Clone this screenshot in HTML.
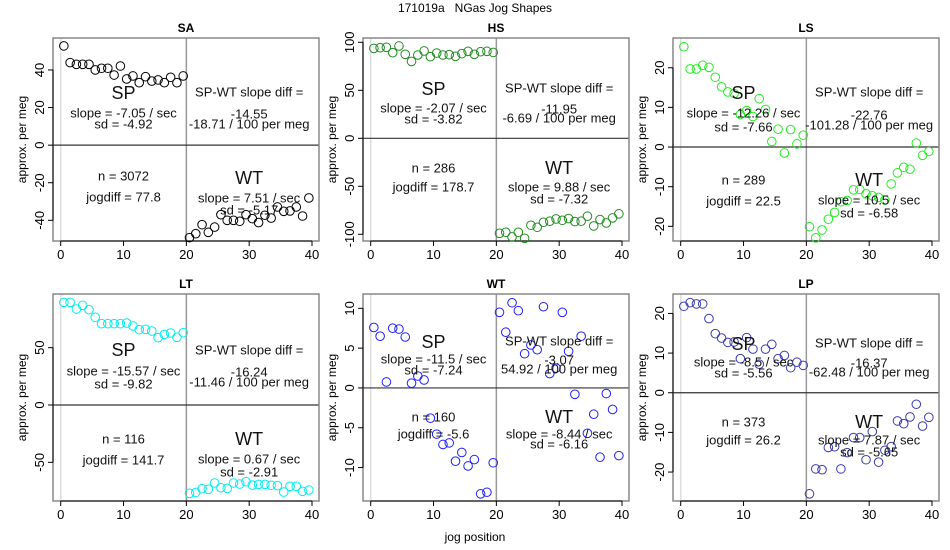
<!DOCTYPE html>
<html><head><meta charset="utf-8"><style>
body{margin:0;background:#fff;}
svg{display:block;font-family:"Liberation Sans",Arial,sans-serif;}
</style></head><body>
<svg id="chart" width="950" height="550" viewBox="0 0 950 550" xmlns="http://www.w3.org/2000/svg">
<rect width="950" height="550" fill="#fff"/>
<text x="475" y="12" font-size="12" text-anchor="middle" style="white-space:pre">171019a   NGas Jog Shapes</text>
<text x="475" y="541" font-size="12" text-anchor="middle">jog position</text>
</svg>
<script>
const panelNames = ["SA","HS","LS","LT","WT","LP"];
const panelColors = ["#000000","#228b22","#22ee22","#00eeee","#2020ff","#3a3ab0"];
const spSA = [52.8,43.9,43,43,43,40,40.9,40.9,37.3,42.1,35.2,36.8,33.2,36.4,34.1,34.7,33.2,36.1,33.2,36.8];
const wtSA = [-49.2,-47.1,-42.3,-46.4,-43.6,-37,-40,-40,-40.5,-37,-39.1,-41.2,-37.3,-38.8,-32.9,-35.2,-35,-32.9,-37.7,-28.1];
const spHS = [93.7,94.4,94.8,89.2,96.2,87.5,80.1,86.8,91.0,85.0,88.8,86.8,87.1,85.4,88.2,90.6,87.5,90.2,90.6,89.5];
const wtHS = [-99,-97.9,-102.8,-97.9,-104.2,-90.6,-92.7,-87.5,-86.4,-84,-85.4,-83.6,-86.8,-86.4,-81.2,-91.3,-84.7,-88.2,-82.9,-78.7];
const spLS = [25.3,19.7,19.7,20.6,20.1,17.6,15.2,13.9,13.5,8.2,9.2,7.7,12.2,9.5,1.4,4.5,-1.5,4.4,0.8,3.0];
const wtLS = [-20.1,-22.9,-20.9,-18.2,-16.5,-13.8,-13.5,-10.8,-10.7,-11.8,-12.3,-12.7,-13.4,-9.3,-6.5,-5.1,-5.6,1.0,-2.1,-1.1];
const spLT = [89.5,89.5,83.7,86.9,83.1,76.5,70.9,70.9,70.9,70.9,71.5,68.9,65.7,66,64.5,58.7,61.6,62.8,59,63.1];
const wtLT = [-77,-76.2,-73,-73.5,-68,-72.1,-72.7,-68,-68.9,-66.9,-69.8,-69.2,-69.2,-70,-70.3,-75.9,-70.9,-70.9,-75.3,-74.1];
const spWT = [7.6,6.5,0.75,7.5,7.4,6.4,0.6,1.5,1.0,-3.8,-5.8,-7.1,-6.9,-9.2,-8.1,-9.8,-9.0,-13.3,-13.1,-9.4];
const wtWT = [9.5,7.0,10.7,9.7,4.3,5.4,4.8,10.2,1.8,2.5,9.5,4.6,-0.8,6.5,-5.7,-3.3,-8.7,-0.7,-2.7,-8.5];
const spLP = [21.8,22.7,22.4,22.4,18.7,14.9,13.8,12.7,12.8,8.6,13.9,11.0,7.2,11.0,12.2,8.6,9.4,6.3,7.7,6.9];
const wtLP = [-25.5,-19.2,-19.4,-13.8,-13.6,-19.2,-15.1,-11.3,-11.3,-16.9,-9.8,-17.5,-14.5,-13.6,-7.1,-7.8,-6.1,-2.9,-8.4,-6.2];
const yMax = [57,104.5,27.5,96.8,11.8,24.9];
const yMin = [-51,-107,-23.7,-83.7,-14.2,-27.3];
const yTicks = [[-40,-20,0,20,40],[-100,-50,0,50,100],[-20,-10,0,10,20],[-50,0,50],[-10,-5,0,5,10],[-20,-10,0,10,20]];
const xTicks = [0,10,20,30,40];
const spText = [["-7.05","-4.92"],["-2.07","-3.82"],["-12.26","-7.66"],["-15.57","-9.82"],["-11.5","-7.24"],["-8.5","-5.56"]];
const wtText = [["7.51","-5.17"],["9.88","-7.32"],["10.5","-6.58"],["0.67","-2.91"],["-8.44","-6.16"],["7.87","-5.65"]];
const diffText = [["-14.55","-18.71"],["-11.95","-6.69"],["-22.76","-101.28"],["-16.24","-11.46"],["-3.07","54.92"],["-16.37","-62.48"]];
const nText = [["3072","77.8"],["286","178.7"],["289","22.5"],["116","141.7"],["160","-5.6"],["373","26.2"]];
const spData=[spSA,spHS,spLS,spLT,spWT,spLP];
const wtData=[wtSA,wtHS,wtLS,wtLT,wtWT,wtLP];
// text layout (pixel y) per panel: [SP, slope, sd, diff, val, pm, n, jog, WT, slope, sd]
const textY=[[93,113,124,92,114,124,176,197,178,198,210],[89,108,119,88,109,118,168,187,168,187,199],[93,113,127,92,115,125,180,201,180,200,213],[350,371,384,350,372,382,439,460,439,459,472],[342,359,370,341,360,369,417,434,417,434,444],[344,362,373,343,363,372,422,440,422,440,452]];
const NS="http://www.w3.org/2000/svg";
const svg=document.getElementById("chart");
function mk(tag,attrs,parent,txt){const e=document.createElementNS(NS,tag);for(const k in attrs)e.setAttribute(k,attrs[k]);if(txt!==undefined)e.textContent=txt;parent.appendChild(e);return e;}
const boxL=[53,363,673], boxT=[38,294], boxW=266, boxH=[203,207];
for(let p=0;p<6;p++){
  const col=p%3,row=Math.floor(p/3);
  const L=boxL[col],T=boxT[row],W=boxW,H=boxH[row];
  const g=mk("g",{},svg);
  
  
  const x0=L+7.7, x40=L+259;
  const X=v=>x0+(x40-x0)*v/40;
  const Y=v=>T+H*(yMax[p]-v)/(yMax[p]-yMin[p]);
  const t=mk("text",{x:L+W/2,y:T-6,"font-size":12,"font-weight":"bold","text-anchor":"middle"},g,panelNames[p]);
  
  
  mk("line",{x1:X(0),x2:X(0),y1:T,y2:T+H,stroke:"#ddd","stroke-width":1.5},g);
  const vl=mk("line",{x1:X(20),x2:X(20),y1:T,y2:T+H,stroke:"#999","stroke-width":1.5},g);
  
  
  const hl=mk("line",{x1:L,x2:L+W,y1:Y(0),y2:Y(0),stroke:"#333","stroke-width":1.2},g);
  
  
  mk("rect",{x:L,y:T,width:W,height:H,fill:"none",stroke:"#888","stroke-width":1.5},g);
  mk("line",{x1:L,x2:L,y1:Y(yTicks[p][0]),y2:Y(yTicks[p][yTicks[p].length-1]),stroke:"#000"},g);
  yTicks[p].forEach(v=>{
    mk("line",{x1:L-5,x2:L,y1:Y(v),y2:Y(v),stroke:"#000"},g);
    const yt=mk("text",{x:0,y:0,"font-size":13,"text-anchor":"middle",transform:`translate(${L-9},${Y(v)}) rotate(-90)`},g,String(v));
    
    
  });
  mk("line",{x1:X(0),x2:X(40),y1:T+H,y2:T+H,stroke:"#000"},g);
  xTicks.forEach(v=>{
    mk("line",{x1:X(v),x2:X(v),y1:T+H,y2:T+H+5,stroke:"#000"},g);
    const xt=mk("text",{x:X(v),y:T+H+18,"font-size":13,"text-anchor":"middle"},g,String(v));
    
    
  });
  const yl=mk("text",{x:0,y:0,"font-size":12,"text-anchor":"middle",transform:`translate(${L-27},${T+H/2}) rotate(-90)`},g,"approx. per meg");
  
  
  spData[p].forEach((v,i)=>{
    const c=mk("circle",{cx:X(i+0.5),cy:Y(v),r:4.3,fill:"none",stroke:panelColors[p],"stroke-width":1},g);
    
    
  });
  wtData[p].forEach((v,i)=>{
    const c=mk("circle",{cx:X(i+20.5),cy:Y(v),r:4.3,fill:"none",stroke:panelColors[p],"stroke-width":1},g);
    
    
  });
  const ty=textY[p], cl=X(10), cr=X(30);
  const lines=[
    [cl,ty[0],18,"SP","sp-label"],[cl,ty[1],13,"slope = "+spText[p][0]+" / sec","sp-slope"],[cl,ty[2],13,"sd = "+spText[p][1],"sp-sd"],
    [cr,ty[3],13,"SP-WT slope diff =","diff-label"],[cr,ty[4],13,diffText[p][0],"diff-value"],[cr,ty[5],13,diffText[p][1]+" / 100 per meg","diff-per-meg"],
    [cl,ty[6],13,"n = "+nText[p][0],"n-label"],[cl,ty[7],13,"jogdiff = "+nText[p][1],"jogdiff-label"],
    [cr,ty[8],18,"WT","wt-label"],[cr,ty[9],13,"slope = "+wtText[p][0]+" / sec","wt-slope"],[cr,ty[10],13,"sd = "+wtText[p][1],"wt-sd"]];
  lines.forEach(l=>{
    const e=mk("text",{x:l[0],y:l[1],"font-size":l[2],"text-anchor":"middle","dominant-baseline":"central",fill:"#111"},g,l[3]);
    
    
  });
}
</script>
</body></html>
